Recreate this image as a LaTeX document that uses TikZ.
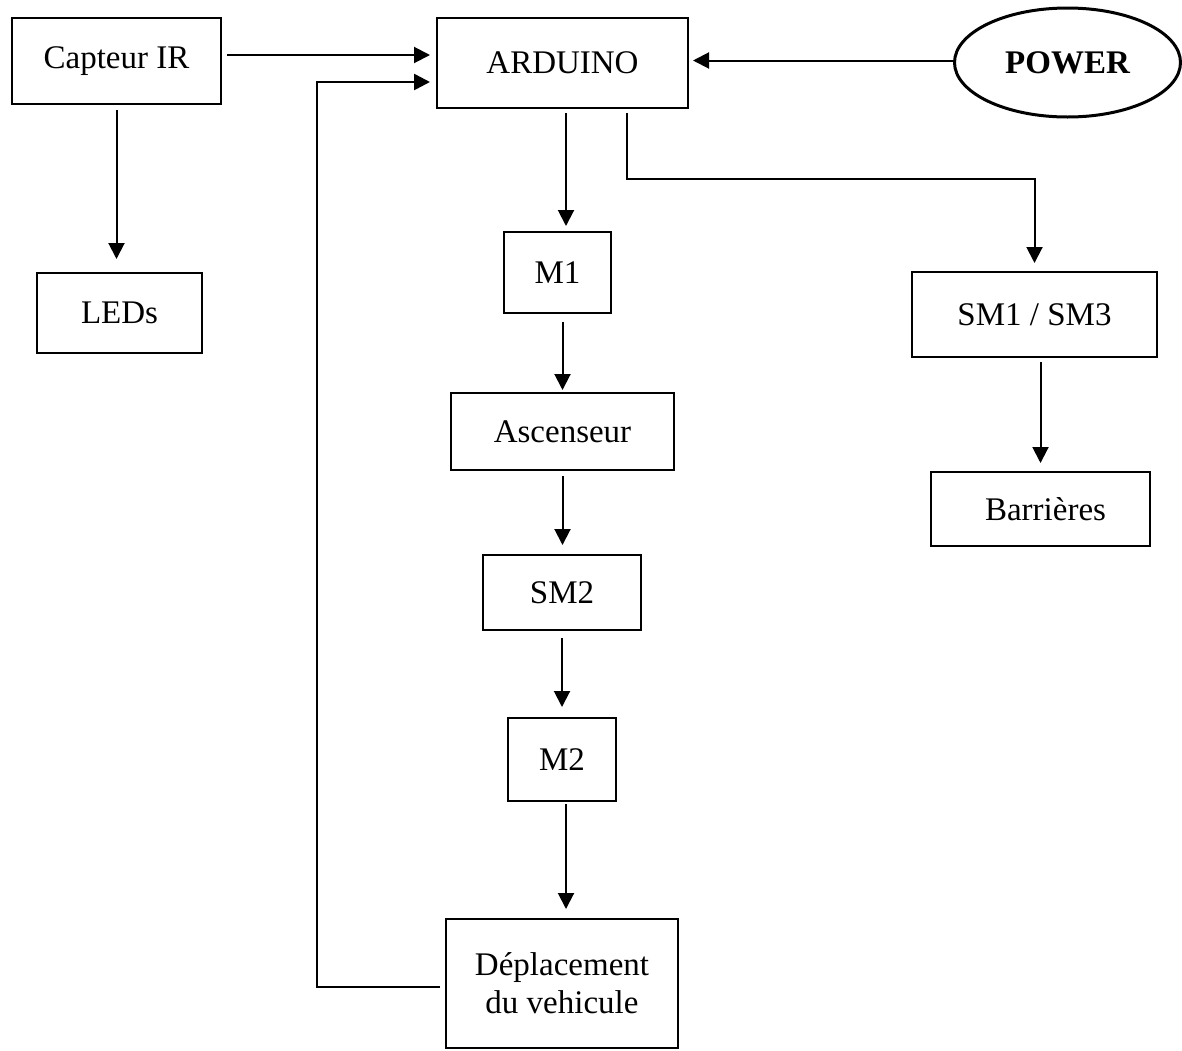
\documentclass[tikz,border=0pt]{standalone}
\usepackage{fontspec}
\setmainfont{Liberation Serif}
\usetikzlibrary{arrows.meta,shapes.geometric}
\begin{document}
\begin{tikzpicture}[x=0.5pt,y=-0.5pt,
  box/.style={draw, line width=1pt, inner sep=0pt, outer sep=0pt,
    font=\fontsize{16.5}{19}\selectfont, align=center},
  oval/.style={ellipse, draw, line width=1.5pt, inner sep=0pt, outer sep=0pt,
    font=\fontsize{16.5}{19}\selectfont\bfseries},
  arr/.style={line width=1pt, -{Triangle[length=8pt,width=8pt]}},
]
\useasboundingbox (0,0) rectangle (1182,1050);
\fill[white] (0,0) rectangle (1182,1050);

\node[box, minimum width=104.5pt, minimum height=43pt] (cap) at (116.5,61) {Capteur IR};
\node[box, minimum width=125.5pt, minimum height=45pt] (ard) at (562.5,63) {ARDUINO};
\node[oval, minimum width=113pt, minimum height=54.5pt] (pow) at (1067.5,62.5) {POWER};
\node[box, minimum width=82.5pt, minimum height=40pt] (leds) at (119.5,313) {LEDs};
\node[box, minimum width=53.5pt, minimum height=40.5pt] (m1) at (557.5,272.5) {M1};
\node[box, minimum width=122.5pt, minimum height=42.5pt] (sm13) at (1034.5,314.5) {SM1 / SM3};
\node[box, minimum width=111.5pt, minimum height=38.5pt] (asc) at (562.5,431.5) {Ascenseur};
\node[box, minimum width=109.5pt, minimum height=37pt] (bar) at (1040.5,509) {\hspace{5pt}Barrières};
\node[box, minimum width=79pt, minimum height=37.5pt] (sm2) at (562,592.5) {SM2};
\node[box, minimum width=54pt, minimum height=41.5pt] (m2) at (562,759.5) {M2};
\node[box, minimum width=116pt, minimum height=64.5pt] (dep) at (562,983.5) {Déplacement\\du vehicule};

% Capteur IR -> ARDUINO
\coordinate (c1) at ([yshift=3pt]cap.east);
\draw[arr, shorten <=3pt, shorten >=3.5pt] (c1) -- (c1 -| ard.west);
% Capteur IR -> LEDs
\draw[arr, shorten <=3pt, shorten >=7pt] (cap.south) -- (cap.south |- leds.north);
% POWER -> ARDUINO
\coordinate (c3) at ([yshift=1pt]pow.west);
\draw[arr, shorten >=2.5pt] (c3) -- (c3 -| ard.east);
% ARDUINO -> M1
\coordinate (c4) at ([xshift=1.75pt]ard.south);
\draw[arr, shorten <=2.5pt, shorten >=3pt] (c4) -- (c4 |- m1.north);
% ARDUINO -> SM1/SM3
\coordinate (c5) at ([xshift=32.25pt]ard.south);
\coordinate (k5) at (1034.5,179);
\draw[arr, shorten <=2.5pt, shorten >=4.5pt] (c5) |- (k5) -- (sm13.north);
% M1 -> Ascenseur
\draw[arr, shorten <=4.5pt, shorten >=1.5pt] (asc.north |- m1.south) -- (asc.north);
% Ascenseur -> SM2
\draw[arr, shorten <=3pt, shorten >=5pt] (asc.south) -- (asc.south |- sm2.north);
% SM2 -> M2
\draw[arr, shorten <=4pt, shorten >=5.5pt] (sm2.south) -- (m2.north);
% M2 -> Deplacement
\coordinate (c9) at ([xshift=2pt]m2.south);
\draw[arr, shorten <=1.5pt, shorten >=5pt] (c9) -- (c9 |- dep.north);
% SM1/SM3 -> Barrieres
\draw[arr, shorten <=2.5pt, shorten >=4.5pt] (bar.north |- sm13.south) -- (bar.north);
% Deplacement -> ARDUINO (feedback)
\coordinate (f1) at ([yshift=-1.75pt]dep.west);
\coordinate (k11) at (317,82);
\draw[arr, line width=1.3pt, shorten <=3pt, shorten >=3.5pt] (f1) -| (k11) -- (k11 -| ard.west);
\end{tikzpicture}
\end{document}
